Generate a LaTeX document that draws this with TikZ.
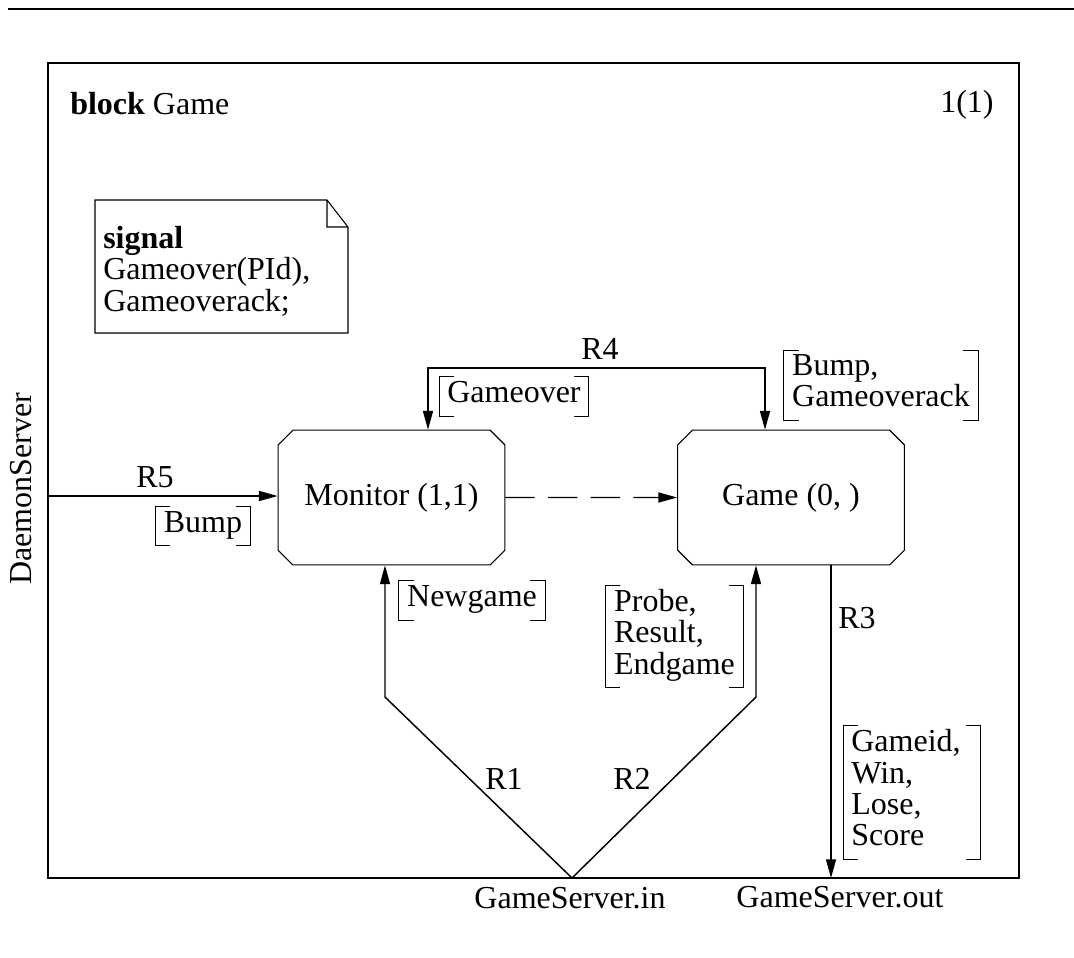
\documentclass[tikz,border=0pt]{standalone}
\usepackage{fontspec}
\setmainfont{Liberation Serif}
\usetikzlibrary{arrows.meta,shapes.misc}

\tikzset{
  process/.style={draw, line width=0.8pt, chamfered rectangle,
    chamfered rectangle xsep=5.5pt, chamfered rectangle ysep=5.5pt,
    minimum width=170pt, minimum height=101pt, inner sep=0pt},
  route/.style={line width=1.1pt},
  siglist/.style={align=left, inner xsep=6pt, inner ysep=3pt,
    execute at begin node=\strut, execute at end node=\strut},
  bracket/.style={line width=0.8pt},
}

\begin{document}
\begin{tikzpicture}[x=0.75pt, y=-0.75pt,
    font=\fontsize{24}{23.5}\selectfont,
    >={Triangle[length=14pt,width=7.5pt]}]
  \useasboundingbox (0,0) rectangle (1074,957);
  % page rule and block frame
  \draw[line width=2pt] (8,9) -- (1074,9);
  \draw[line width=0.8pt] (48,63) rectangle (1019,878);
  \node[anchor=base west, inner sep=0pt] (title) at (70,114) {\textbf{block} Game};
  \node[anchor=base west, inner sep=0pt] (page) at (940,112) {1(1)};
  % signal declaration
  \draw[line width=0.8pt] (95,200) -- (327,200) -- (348,227) -- (348,333) -- (95,333) -- cycle
    (327,200) |- (348,227);
  \node[anchor=north west, align=left, inner sep=0pt] (sigdecl) at (103,226)
    {\textbf{signal}\\Gameover(PId),\\Gameoverack;};
  % processes
  \node[process] (monitor) at (391.5,497.5) {Monitor (1,1)};
  \node[process] (game) at (791,497.5) {Game (0, )};
  % end points on the frame
  \coordinate (daemon) at (48,496);
  \coordinate (gsin) at (572,878);
  \coordinate (gsout) at (831,878);
  \node[rotate=90] (daemonlbl) at (21,489) {DaemonServer};
  \node[anchor=base] (gsinlbl) at (570,908) {GameServer.in};
  \node[anchor=base] (gsoutlbl) at (840,907) {GameServer.out};
  % routes
  \coordinate (r4left) at (428,368);
  \coordinate (r4right) at (765,368);
  \coordinate (r1bend) at (385,697);
  \coordinate (r2bend) at (756,697);
  \draw[route,->] (daemon) -- (daemon -| monitor.west);
  \draw[route,<->] (r4left |- monitor.north) -- (r4left) -- (r4right) -- (r4right |- game.north);
  \draw[route,->] (gsin) -- (r1bend) -- (r1bend |- monitor.south);
  \draw[route,->] (gsin) -- (r2bend) -- (r2bend |- game.south);
  \draw[route,->] (gsout |- game.south) -- (gsout);
  \draw[route,->,dash pattern=on 22pt off 10pt] (monitor) -- (game);
  % route names
  \node[anchor=base] (r5) at (155,487) {R5};
  \node[anchor=base] (r4) at (600,359) {R4};
  \node[anchor=base] (r1) at (504,789) {R1};
  \node[anchor=base] (r2) at (632,789) {R2};
  \node[anchor=base west, inner sep=0pt] (r3) at (838,628) {R3};
  % signal lists
  \node[siglist] (bump) at (203,526) {Bump};
  \node[siglist] (gover) at (514,396.5) {Gameover};
  \node[siglist] (bumpack) at (881,385.5) {Bump,\\Gameoverack};
  \node[siglist] (newgame) at (472,600.5) {Newgame};
  \node[siglist] (probe) at (674.5,636.5) {Probe,\\Result,\\Endgame};
  \node[siglist, text width=91pt] (gamewin) at (912,792.5) {Gameid,\\Win,\\Lose,\\Score};
  \foreach \n in {bump,gover,bumpack,newgame,probe,gamewin} {
    \draw[bracket] ([xshift=11pt]\n.north west) -| (\n.south west) -- ++(11pt,0);
    \draw[bracket] ([xshift=-11pt]\n.north east) -| (\n.south east) -- ++(-11pt,0);
  }
\end{tikzpicture}
\end{document}
